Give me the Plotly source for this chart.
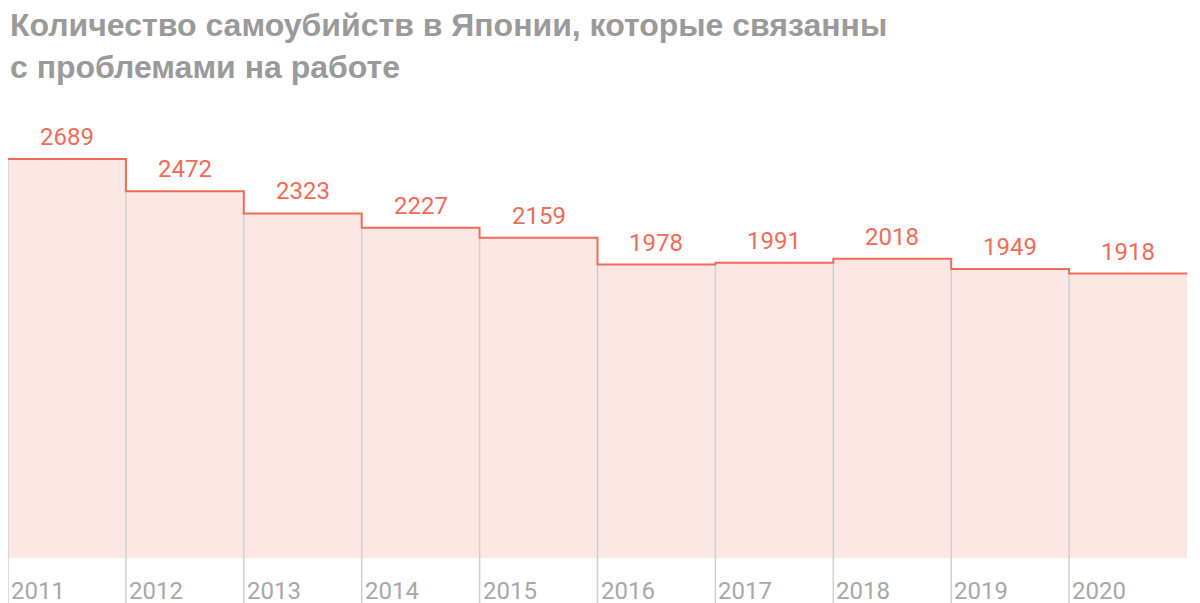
import plotly.graph_objects as go

years = ["2011","2012","2013","2014","2015","2016","2017","2018","2019","2020"]
values = [2689, 2472, 2323, 2227, 2159, 1978, 1991, 2018, 1949, 1918]

n = len(values)
idx = list(range(n))
red = "#f26a58"
fig = go.Figure()
fig.add_trace(go.Bar(x=idx, y=values, width=1, marker=dict(color="#fde7e5", line=dict(width=0)),
                     hoverinfo="skip"))
gx, gy = [], []
for i in range(n):
    top = values[i] if i == 0 else min(values[i], values[i-1])
    gx += [i-0.5, i-0.5, None]
    gy += [top, -330, None]
fig.add_trace(go.Scatter(x=gx, y=gy, mode="lines", line=dict(color="#d0d0d0", width=1.5), hoverinfo="skip"))
sx = [i-0.5 for i in idx] + [n-0.5]
sy = values + [values[-1]]
fig.add_trace(go.Scatter(x=sx, y=sy, mode="lines", line=dict(color=red, width=2, shape="hv"), hoverinfo="skip"))

for i, v in enumerate(values):
    fig.add_annotation(x=i, y=v, text=str(v), showarrow=False, yshift=22,
                       font=dict(color=red, size=24, family="Roboto"))
    fig.add_annotation(x=i-0.5, y=-219, text=years[i], showarrow=False, xanchor="left", xshift=1,
                       font=dict(color="#a8a8a8", size=24, family="Roboto"))

fig.add_annotation(xref="paper", yref="paper", x=0, y=1.185, xanchor="left", yanchor="top",
                   align="left", showarrow=False,
                   text="<b>Количество самоубийств в Японии, которые связанны<br>с проблемами на работе</b>",
                   font=dict(color="#9a9a9a", size=32, family="Liberation Sans"))

fig.update_layout(width=1200, height=603, margin=dict(l=0, r=21, t=92, b=0),
                  plot_bgcolor="white", paper_bgcolor="white", showlegend=False, bargap=0,
                  xaxis=dict(range=[-0.5, n-0.5], visible=False),
                  yaxis=dict(range=[-356, 3087], visible=False))
fig.write_html("out.html")
